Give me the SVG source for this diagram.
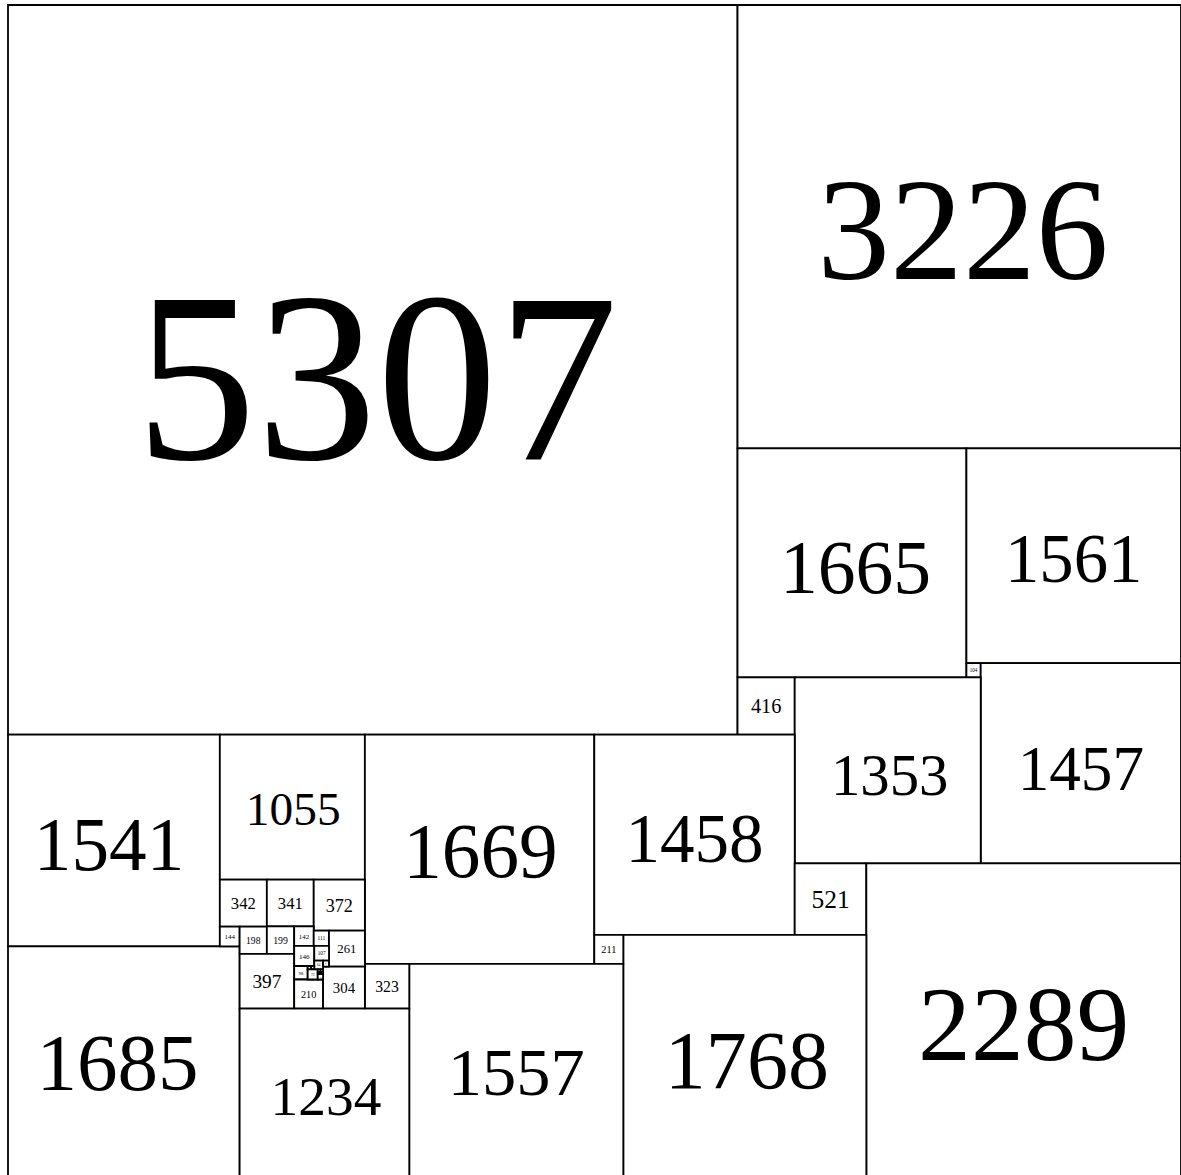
<svg xmlns="http://www.w3.org/2000/svg" width="1181" height="1175" viewBox="0 0 1181 1175">
<style>
rect.sq{fill:#fff;stroke:#000;stroke-width:1.8;vector-effect:non-scaling-stroke}
text{font-family:"Liberation Serif","Times New Roman",serif;text-anchor:middle;fill:#000}
</style>
<rect x="0" y="0" width="1181" height="1175" fill="#fff"/>
<g id="squares" transform="translate(8,5) scale(0.137466)">
<g id="s5307"><rect class="sq" x="0" y="0" width="5307" height="5307"/><text x="2683" y="3300" font-size="1755">5307</text></g>
<g id="s3226"><rect class="sq" x="5307" y="0" width="3226" height="3226"/><text x="6947" y="1994" font-size="1060">3226</text></g>
<g id="s1665"><rect class="sq" x="5307" y="3226" width="1665" height="1665"/><text x="6165" y="4280" font-size="550">1665</text></g>
<g id="s1561"><rect class="sq" x="6972" y="3226" width="1561" height="1561"/><text x="7752.5" y="4197" font-size="500">1561</text></g>
<g id="s104"><rect class="sq" x="6972" y="4787" width="104" height="104"/><text x="7024" y="4853" font-size="37">104</text></g>
<g id="s1457"><rect class="sq" x="7076" y="4787" width="1457" height="1457"/><text x="7804.5" y="5710" font-size="460">1457</text></g>
<g id="s416"><rect class="sq" x="5307" y="4891" width="416" height="416"/><text x="5515" y="5152" font-size="148">416</text></g>
<g id="s1353"><rect class="sq" x="5723" y="4891" width="1353" height="1353"/><text x="6414" y="5747" font-size="428">1353</text></g>
<g id="s1541"><rect class="sq" x="0" y="5307" width="1541" height="1541"/><text x="735" y="6290" font-size="547">1541</text></g>
<g id="s1055"><rect class="sq" x="1541" y="5307" width="1055" height="1055"/><text x="2075" y="5965" font-size="345">1055</text></g>
<g id="s1669"><rect class="sq" x="2596" y="5307" width="1669" height="1669"/><text x="3437" y="6343" font-size="562">1669</text></g>
<g id="s1458"><rect class="sq" x="4265" y="5307" width="1458" height="1458"/><text x="4994" y="6234" font-size="503">1458</text></g>
<g id="s521"><rect class="sq" x="5723" y="6244" width="521" height="521"/><text x="5983.5" y="6570" font-size="185">521</text></g>
<g id="s2289"><rect class="sq" x="6244" y="6244" width="2289" height="2289"/><text x="7388.5" y="7675" font-size="768">2289</text></g>
<g id="s1768"><rect class="sq" x="4476" y="6765" width="1768" height="1768"/><text x="5375" y="7878" font-size="597">1768</text></g>
<g id="s211"><rect class="sq" x="4265" y="6765" width="211" height="211"/><text x="4370.5" y="6897" font-size="75">211</text></g>
<g id="s1557"><rect class="sq" x="2919" y="6976" width="1557" height="1557"/><text x="3697.5" y="7929" font-size="498">1557</text></g>
<g id="s1685"><rect class="sq" x="0" y="6848" width="1685" height="1685"/><text x="797" y="7893" font-size="590">1685</text></g>
<g id="s1234"><rect class="sq" x="1685" y="7299" width="1234" height="1234"/><text x="2313" y="8075" font-size="403">1234</text></g>
<g id="s323"><rect class="sq" x="2596" y="6976" width="323" height="323"/><text x="2757.5" y="7180" font-size="115">323</text></g>
<g id="s342"><rect class="sq" x="1541" y="6362" width="342" height="342"/><text x="1712" y="6575" font-size="121">342</text></g>
<g id="s341"><rect class="sq" x="1883" y="6362" width="341" height="341"/><text x="2053.5" y="6574" font-size="121">341</text></g>
<g id="s372"><rect class="sq" x="2224" y="6362" width="372" height="372"/><text x="2410" y="6597" font-size="132">372</text></g>
<g id="s144"><rect class="sq" x="1541" y="6704" width="144" height="144"/><text x="1613" y="6795" font-size="51">144</text></g>
<g id="s198"><rect class="sq" x="1685" y="6704" width="198" height="198"/><text x="1784" y="6829" font-size="70">198</text></g>
<g id="s199"><rect class="sq" x="1883" y="6703" width="199" height="199"/><text x="1982.5" y="6829" font-size="71">199</text></g>
<g id="s142"><rect class="sq" x="2082" y="6703" width="142" height="142"/><text x="2153" y="6792" font-size="50">142</text></g>
<g id="s111"><rect class="sq" x="2224" y="6734" width="111" height="111"/><text x="2279.5" y="6804" font-size="39">111</text></g>
<g id="s261"><rect class="sq" x="2335" y="6734" width="261" height="261"/><text x="2465.5" y="6899" font-size="93">261</text></g>
<g id="s397"><rect class="sq" x="1685" y="6902" width="397" height="397"/><text x="1883.5" y="7153" font-size="141">397</text></g>
<g id="s146"><rect class="sq" x="2082" y="6845" width="146" height="146"/><text x="2155" y="6937" font-size="52">146</text></g>
<g id="s107"><rect class="sq" x="2228" y="6845" width="107" height="107"/><text x="2281.5" y="6912" font-size="38">107</text></g>
<g id="s98"><rect class="sq" x="2082" y="6991" width="98" height="98"/><text x="2131" y="7053" font-size="35">98</text></g>
<g id="s210"><rect class="sq" x="2082" y="7089" width="210" height="210"/><text x="2187" y="7222" font-size="75">210</text></g>
<g id="s304"><rect class="sq" x="2292" y="6995" width="304" height="304"/><text x="2444" y="7187" font-size="108">304</text></g>
<g id="s64"><rect class="sq" x="2228" y="6952" width="64" height="64"/><text x="2260" y="6992" font-size="23">64</text></g>
<g id="s43"><rect class="sq" x="2292" y="6952" width="43" height="43"/><text x="2313.5" y="6979" font-size="15">43</text></g>
<g id="s25"><rect class="sq" x="2180" y="6991" width="25" height="25"/></g>
<g id="s23"><rect class="sq" x="2205" y="6991" width="23" height="23"/></g>
<g id="s73"><rect class="sq" x="2180" y="7016" width="73" height="73"/><text x="2216.5" y="7062" font-size="26">73</text></g>
<g id="s39"><rect class="sq" x="2253" y="7050" width="39" height="39"/><text x="2272.5" y="7075" font-size="14">39</text></g>
<g id="s21"><rect class="sq" x="2253" y="7016" width="21" height="21"/></g>
<g id="s18"><rect class="sq" x="2274" y="7016" width="18" height="18"/></g>
<g id="s13"><rect class="sq" x="2253" y="7037" width="13" height="13"/></g>
<g id="s8"><rect class="sq" x="2266" y="7037" width="8" height="8"/></g>
<g id="s16"><rect class="sq" x="2276" y="7034" width="16" height="16"/></g>
</g>
<g id="connectors"></g>
</svg>
